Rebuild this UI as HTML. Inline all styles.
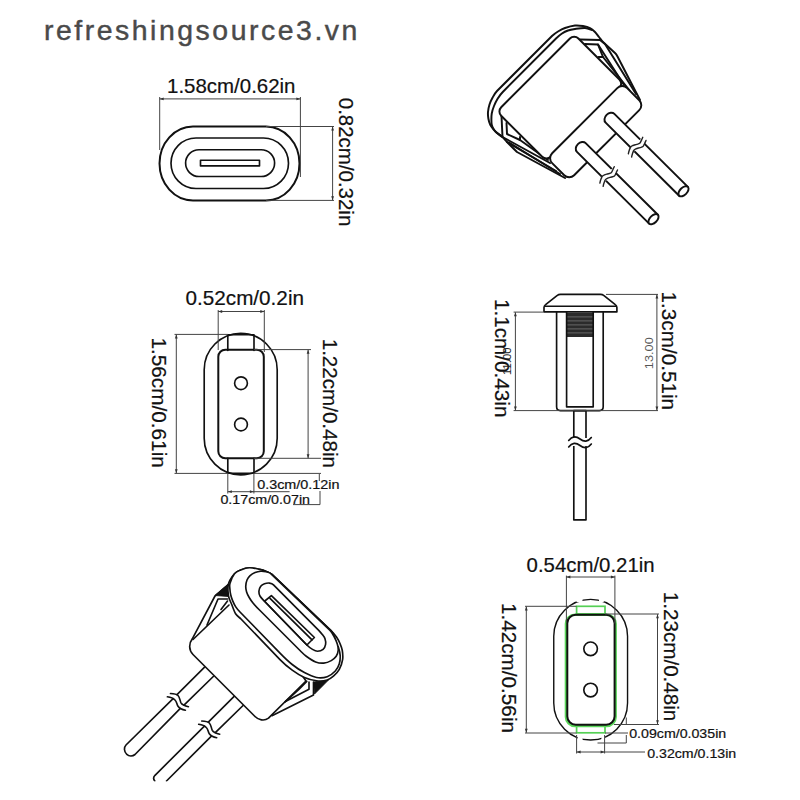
<!DOCTYPE html>
<html><head><meta charset="utf-8"><title>connector</title><style>
html,body{margin:0;padding:0;background:#fff;}
svg{display:block}
.o{fill:none;stroke:#111;stroke-width:1.65;stroke-linejoin:round;stroke-linecap:round}
.br{fill:none;stroke:#222;stroke-width:1.4;stroke-linecap:round}
.o3{fill:none;stroke:#111;stroke-width:1.95;stroke-linejoin:round;stroke-linecap:round}
.o2{fill:none;stroke:#111;stroke-width:2;stroke-linejoin:round}
.d{fill:none;stroke:#444;stroke-width:1}
.ar{fill:#333}
.kn{stroke:#777;stroke-width:0.8}
.blk{fill:#111;stroke:#111;stroke-width:0.8;stroke-linejoin:round}
.gr{fill:none;stroke:#55d055;stroke-width:1.7}
.gr2{fill:none;stroke:#5ad65a;stroke-width:2.6}
.t{font-family:"Liberation Sans",sans-serif;fill:#111;stroke:#111;stroke-width:0.2}
.sm{font-family:"Liberation Sans",sans-serif;fill:#555}
.sm2{font-family:"Liberation Sans",sans-serif;fill:#222}
.wm{font-family:"Liberation Sans",sans-serif;font-size:28.4px;fill:#4a4a4a;stroke:#4a4a4a;stroke-width:0.45}
</style></head>
<body><svg width="800" height="800" viewBox="0 0 800 800">
<rect width="800" height="800" fill="#fff"/>
<text class="wm" x="43.9" y="40.2" textLength="313.5" lengthAdjust="spacing">refreshingsource3.vn</text>
<path class="o2" d="M193,126.5 H266 A33.5,36.95 0 0 1 266,200.4 H193 A33.5,36.95 0 0 1 193,126.5 Z" />
<path class="o" d="M196,138 H263.5 A25,25.25 0 0 1 263.5,188.5 H196 A25,25.25 0 0 1 196,138 Z" />
<path class="o" d="M199,149.7 H261.2 A13.4,13.4 0 0 1 261.2,176.5 H199 A13.4,13.4 0 0 1 199,149.7 Z" />
<rect class="o" x="200.5" y="160.2" width="59" height="5.7"/>
<line class="d" x1="159.7" y1="97" x2="159.7" y2="150"/>
<line class="d" x1="300.4" y1="97" x2="300.4" y2="177"/>
<line class="d" x1="159.7" y1="98.9" x2="300.4" y2="98.9"/>
<path class="ar" d="M159.7,98.9 L163.7,97.5 L163.7,100.3 Z"/>
<path class="ar" d="M300.4,98.9 L296.4,100.3 L296.4,97.5 Z"/>
<line class="d" x1="266" y1="126.5" x2="334" y2="126.5"/>
<line class="d" x1="266" y1="200.4" x2="334" y2="200.4"/>
<line class="d" x1="332.6" y1="126.6" x2="332.6" y2="200.2"/>
<path class="ar" d="M332.6,126.6 L334,130.6 L331.2,130.6 Z"/>
<path class="ar" d="M332.6,200.2 L331.2,196.2 L334,196.2 Z"/>
<text class="t" x="167" y="93.3" style="font-size:20.6px" textLength="128.5" lengthAdjust="spacingAndGlyphs">1.58cm/0.62in</text>
<text class="t" transform="translate(338.6,97.8) rotate(90)" style="font-size:20.6px" textLength="128.5" lengthAdjust="spacingAndGlyphs">0.82cm/0.32in</text>
<rect class="o" x="204.2" y="333.3" width="73" height="141.5" rx="36.5"/>
<path class="o" d="M227.8,335.6 L227.8,350.5" />
<path class="o" d="M254,335.6 L254,350.5" />
<path class="o" d="M227.8,458.2 L227.8,472.6" />
<path class="o" d="M254,458.2 L254,472.6" />
<rect class="o2" x="218.3" y="349.7" width="45.5" height="108.6" rx="7"/>
<line class="o" x1="227.8" y1="334.7" x2="254" y2="334.7"/>
<line class="o" x1="227.8" y1="473.2" x2="254" y2="473.2"/>
<circle class="o" cx="241" cy="383.2" r="6.4"/>
<circle class="o" cx="241" cy="424.5" r="6.4"/>
<line class="d" x1="218.2" y1="310" x2="218.2" y2="350"/>
<line class="d" x1="264.3" y1="310" x2="264.3" y2="352"/>
<line class="d" x1="218.2" y1="311.5" x2="264.3" y2="311.5"/>
<path class="ar" d="M218.2,311.5 L222.2,310.1 L222.2,312.9 Z"/>
<path class="ar" d="M264.3,311.5 L260.3,312.9 L260.3,310.1 Z"/>
<text class="t" x="185.5" y="304.8" style="font-size:20.2px" textLength="118.5" lengthAdjust="spacingAndGlyphs">0.52cm/0.2in</text>
<line class="d" x1="174.5" y1="334.4" x2="227.8" y2="334.4"/>
<line class="d" x1="174.5" y1="473.4" x2="227.8" y2="473.4"/>
<line class="d" x1="254" y1="473.4" x2="321" y2="473.4"/>
<line class="d" x1="176.3" y1="334.5" x2="176.3" y2="473.2"/>
<path class="ar" d="M176.3,334.5 L177.7,338.5 L174.9,338.5 Z"/>
<path class="ar" d="M176.3,473.2 L174.9,469.2 L177.7,469.2 Z"/>
<text class="t" transform="translate(151.9,337.5) rotate(90)" style="font-size:20.6px" textLength="130.3" lengthAdjust="spacingAndGlyphs">1.56cm/0.61in</text>
<line class="d" x1="254" y1="349.6" x2="311" y2="349.6"/>
<line class="d" x1="254" y1="458.3" x2="321" y2="458.3"/>
<line class="d" x1="308.1" y1="349.8" x2="308.1" y2="458.2"/>
<path class="ar" d="M308.1,349.8 L309.5,353.8 L306.7,353.8 Z"/>
<path class="ar" d="M308.1,458.2 L306.7,454.2 L309.5,454.2 Z"/>
<text class="t" transform="translate(322.7,338.7) rotate(90)" style="font-size:20px" textLength="129.3" lengthAdjust="spacingAndGlyphs">1.22cm/0.48in</text>
<line class="d" x1="227.8" y1="473" x2="227.8" y2="493.5"/>
<line class="d" x1="253.9" y1="473" x2="253.9" y2="493.5"/>
<line class="d" x1="227.8" y1="491.7" x2="289.6" y2="491.7"/>
<path class="ar" d="M227.8,491.7 L231.8,490.3 L231.8,493.1 Z"/>
<path class="ar" d="M253.9,491.7 L249.9,493.1 L249.9,490.3 Z"/>
<text class="t" x="257.2" y="489.1" style="font-size:12.7px" textLength="82.3" lengthAdjust="spacingAndGlyphs">0.3cm/0.12in</text>
<text class="t" x="220.4" y="503.8" style="font-size:12.7px" textLength="89.6" lengthAdjust="spacingAndGlyphs">0.17cm/0.07in</text>
<path class="d" d="M293,504.6 L320,504.6 L320,491" />
<line class="d" x1="319.3" y1="474" x2="319.3" y2="481"/>
<path class="o" d="M544,311.9 L544,307.6 Q544,305.8 545.6,304.6 L557,295.6 Q558.6,294.4 560.5,294.4 L600.5,294.4 Q602.4,294.4 604,295.6 L615.3,304.6 Q616.9,305.8 616.9,307.6 L616.9,311.9 Z" />
<line class="o" x1="545" y1="306.2" x2="616" y2="306.2"/>
<path class="o" d="M556.6,312.3 V406.8 Q556.6,410.6 560.4,410.6 H599.4 Q603.2,410.6 603.2,406.8 V312.3" />
<rect x="566.6" y="312.8" width="26.6" height="24.2" fill="#2b2b2b"/>
<line class="kn" x1="566.6" y1="316.9" x2="593.2" y2="316.9"/>
<line class="kn" x1="566.6" y1="320.9" x2="593.2" y2="320.9"/>
<line class="kn" x1="566.6" y1="324.9" x2="593.2" y2="324.9"/>
<line class="kn" x1="566.6" y1="328.9" x2="593.2" y2="328.9"/>
<line class="kn" x1="566.6" y1="332.9" x2="593.2" y2="332.9"/>
<path class="o" d="M566.6,312.3 V406.9 H593.2 V312.3" />
<rect class="o" x="573.8" y="410.6" width="12.2" height="109.3"/>
<rect x="567" y="438" width="26" height="8" fill="#fff"/>
<path class="o" d="M568.7,440.5 C572,436 576,436 580,439 C584,442 588,442 591.3,437.5" />
<path class="o" d="M568.7,447 C572,442.5 576,442.5 580,445.5 C584,448.5 588,448.5 591.3,444" />
<line class="d" x1="513.6" y1="312.1" x2="543.5" y2="312.1"/>
<line class="d" x1="513.6" y1="410.6" x2="658" y2="410.6"/>
<line class="d" x1="606" y1="294.4" x2="658" y2="294.4"/>
<line class="d" x1="515.4" y1="312.3" x2="515.4" y2="410.5"/>
<path class="ar" d="M515.4,312.3 L516.8,316.3 L514,316.3 Z"/>
<path class="ar" d="M515.4,410.5 L514,406.5 L516.8,406.5 Z"/>
<line class="d" x1="656.9" y1="294.6" x2="656.9" y2="410.5"/>
<path class="ar" d="M656.9,294.6 L658.3,298.6 L655.5,298.6 Z"/>
<path class="ar" d="M656.9,410.5 L655.5,406.5 L658.3,406.5 Z"/>
<text class="t" transform="translate(494.6,298.9) rotate(90)" style="font-size:20.6px" textLength="118.5" lengthAdjust="spacingAndGlyphs">1.1cm/0.43in</text>
<text class="t" transform="translate(661.8,291.6) rotate(90)" style="font-size:20.6px" textLength="118.5" lengthAdjust="spacingAndGlyphs">1.3cm/0.51in</text>
<text class="sm" transform="translate(652.8,369.2) rotate(-90)" style="font-size:10.5px" textLength="32" lengthAdjust="spacingAndGlyphs">13.00</text>
<text class="sm2" transform="translate(511,375) rotate(-90)" style="font-size:10.5px" textLength="27.5" lengthAdjust="spacingAndGlyphs">11.00</text>
<rect class="o" style="stroke-width:1.4" x="553.75" y="599.4" width="73.8" height="140.6" rx="36.9"/>
<rect x="576.6" y="596" width="5.9" height="6" fill="#fff"/>
<rect x="598.9" y="596" width="4.9" height="6" fill="#fff"/>
<rect x="577.7" y="737" width="4.9" height="6" fill="#fff"/>
<rect x="601.4" y="737" width="3.7" height="6" fill="#fff"/>
<rect x="576.6" y="606.3" width="28.4" height="7.6" class="gr"/>
<rect x="576.6" y="724.8" width="28.4" height="8" class="gr"/>
<rect class="gr2" x="566" y="614.7" width="49.6" height="111.2" rx="9"/>
<rect class="o2" x="567.3" y="614.8" width="47.3" height="110" rx="8.5"/>
<circle class="o" cx="590.6" cy="648.8" r="6.8"/>
<circle class="o" cx="590.6" cy="690" r="6.8"/>
<line class="d" x1="566.4" y1="575.6" x2="566.4" y2="622.5"/>
<line class="d" x1="614.9" y1="575.6" x2="614.9" y2="623.5"/>
<line class="d" x1="566.4" y1="577" x2="614.9" y2="577"/>
<path class="ar" d="M566.4,577 L570.4,575.6 L570.4,578.4 Z"/>
<path class="ar" d="M614.9,577 L610.9,578.4 L610.9,575.6 Z"/>
<text class="t" x="526.6" y="571.8" style="font-size:20.6px" textLength="128" lengthAdjust="spacingAndGlyphs">0.54cm/0.21in</text>
<line class="d" x1="525" y1="606.3" x2="576.6" y2="606.3"/>
<line class="d" x1="525" y1="733" x2="576.6" y2="733"/>
<line class="d" x1="526.3" y1="606.5" x2="526.3" y2="732.8"/>
<path class="ar" d="M526.3,606.5 L527.7,610.5 L524.9,610.5 Z"/>
<path class="ar" d="M526.3,732.8 L524.9,728.8 L527.7,728.8 Z"/>
<text class="t" transform="translate(502.3,603) rotate(90)" style="font-size:20.6px" textLength="130" lengthAdjust="spacingAndGlyphs">1.42cm/0.56in</text>
<line class="d" x1="605" y1="614" x2="659" y2="614"/>
<line class="d" x1="614" y1="724.5" x2="659" y2="724.5"/>
<line class="d" x1="657.5" y1="614.2" x2="657.5" y2="724.2"/>
<path class="ar" d="M657.5,614.2 L658.9,618.2 L656.1,618.2 Z"/>
<path class="ar" d="M657.5,724.2 L656.1,720.2 L658.9,720.2 Z"/>
<text class="t" transform="translate(663.9,591.8) rotate(90)" style="font-size:20.6px" textLength="129.5" lengthAdjust="spacingAndGlyphs">1.23cm/0.48in</text>
<line class="d" x1="576.6" y1="735" x2="576.6" y2="753.5"/>
<line class="d" x1="604.6" y1="735" x2="604.6" y2="753.5"/>
<line class="d" x1="576.6" y1="752" x2="645" y2="752"/>
<path class="ar" d="M576.6,752 L580.6,750.6 L580.6,753.4 Z"/>
<path class="ar" d="M604.6,752 L600.6,753.4 L600.6,750.6 Z"/>
<line class="d" x1="605" y1="733" x2="628" y2="733"/>
<path class="d" d="M597.5,743 L626.3,743 L626.3,735" />
<line class="d" x1="626.3" y1="717.5" x2="626.3" y2="724"/>
<text class="t" x="629.2" y="737.6" style="font-size:12.7px" textLength="97" lengthAdjust="spacingAndGlyphs">0.09cm/0.035in</text>
<text class="t" x="647.2" y="757.8" style="font-size:12.7px" textLength="89" lengthAdjust="spacingAndGlyphs">0.32cm/0.13in</text>
<path class="o3" d="M565,178 L517,152 L508,143 C506,141 504.08,138.42 502.25,136.75 C500.42,135.08 498.38,134.12 497,133 C495.62,131.88 495.12,131.38 494,130 C492.88,128.62 491.18,126.62 490.25,124.75 C489.32,122.88 488.77,120.88 488.4,118.75 C488.02,116.62 487.82,114.38 488,112 C488.18,109.62 488.75,106.88 489.5,104.5 C490.25,102.12 491.25,100 492.5,97.75 C493.75,95.5 495.09,92.91 497,91 L552,36 C553.77,34.23 555.83,32.83 558,31.5 C560.17,30.17 562.17,29 565,28 C567.83,27 572,25.83 575,25.5 C578,25.17 580.5,25.58 583,26 C585.5,26.42 588,27 590,28 C592,29 593.5,30.5 595,32 C596.5,33.5 597.67,35.33 599,37 C600.33,38.67 601.43,40.56 603,42 L615,53 C616.06,53.97 616.84,55.23 617.5,56.5 L640,100" />
<path class="o3" d="M501.5,136.5 C500.58,135.75 497.38,133.33 496,132 C494.62,130.67 493.96,129.71 493.25,128.5 C492.54,127.29 492.06,126.12 491.75,124.75 C491.44,123.38 491.4,122.12 491.4,120.25 C491.4,118.38 491.32,115.88 491.75,113.5 C492.18,111.12 493,108.5 494,106 C495,103.5 496.25,100.88 497.75,98.5 C499.25,96.12 500.99,93.77 503,91.75 L556,38.5 C557.84,36.65 560,34.83 562,33.5 C564,32.17 565.83,31.25 568,30.5 C570.17,29.75 572.17,29.42 575,29 C577.83,28.58 582.17,27.83 585,28 C587.83,28.17 590.83,29.67 592,30" />
<path class="o3" d="M580,39.5 L600,40" />
<path class="o3" d="M600,40 L605,44 L636,94" />
<path class="o3" d="M585,44 L598,44.5 L603,57 L598.5,57" />
<path class="o3" d="M598,44.5 L624,85" />
<path class="o3" d="M603,57 L630,91" />
<path class="o3" d="M501.5,116 L502.5,137" />
<path class="o3" d="M506.5,123 L507,134 L520,140 L520,137" />
<path class="o3" d="M520,140 L548,160" />
<path class="o3" d="M502.5,137 L550,163" />
<path class="o3" d="M507,142 L556,171" />
<path class="o3" d="M509,142.5 L560,174" />
<rect class="o3" x="-54.6" y="-35" width="109.2" height="70" rx="6" transform="translate(560.3,97.6) rotate(-45)" style="fill:#fff"/>
<rect class="o3" x="-53.05" y="-15.55" width="106.1" height="31.1" rx="7" transform="translate(595.7,131.7) rotate(-45)" style="fill:#fff"/>
<g transform="translate(606.6,114.9) rotate(44.81)"><path class="o3" style="fill:#fff" d="M108.4,-6.2 L4.8,-6.2 A4.8,6.2 0 0 0 4.8,6.2 L108.4,6.2 Z"/><ellipse class="o3" style="fill:#fff" cx="108.4" cy="0" rx="3.6" ry="6.2"/><path d="M41.4,-7.4 L47.2,-7.4 L45.2,7.4 L39.6,7.4 Z" fill="#fff"/><path class="br" d="M41.4,-9.6 C41.57,-9.15 42.05,-7.97 42.4,-6.9 C42.75,-5.83 43.55,-4.3 43.5,-3.2 C43.45,-2.1 42.65,-1.37 42.1,-0.3 C41.55,0.77 40.6,2.18 40.2,3.2 C39.8,4.22 39.53,4.75 39.7,5.8 C39.87,6.85 40.68,8.43 41.2,9.5 C41.72,10.57 42.53,11.75 42.8,12.2"/><path class="br" d="M46,-9.6 C46.17,-9.15 46.65,-7.97 47,-6.9 C47.35,-5.83 48.15,-4.3 48.1,-3.2 C48.05,-2.1 47.25,-1.37 46.7,-0.3 C46.15,0.77 45.2,2.18 44.8,3.2 C44.4,4.22 44.13,4.75 44.3,5.8 C44.47,6.85 45.28,8.43 45.8,9.5 C46.32,10.57 47.13,11.75 47.4,12.2"/></g>
<g transform="translate(577.9,144.1) rotate(44.81)"><path class="o3" style="fill:#fff" d="M106.56,-6.2 L4.8,-6.2 A4.8,6.2 0 0 0 4.8,6.2 L106.56,6.2 Z"/><ellipse class="o3" style="fill:#fff" cx="106.56" cy="0" rx="3.6" ry="6.2"/><path d="M41.7,-7.4 L47.5,-7.4 L45.5,7.4 L39.9,7.4 Z" fill="#fff"/><path class="br" d="M41.7,-9.6 C41.87,-9.15 42.35,-7.97 42.7,-6.9 C43.05,-5.83 43.85,-4.3 43.8,-3.2 C43.75,-2.1 42.95,-1.37 42.4,-0.3 C41.85,0.77 40.9,2.18 40.5,3.2 C40.1,4.22 39.83,4.75 40,5.8 C40.17,6.85 40.98,8.43 41.5,9.5 C42.02,10.57 42.83,11.75 43.1,12.2"/><path class="br" d="M46.3,-9.6 C46.47,-9.15 46.95,-7.97 47.3,-6.9 C47.65,-5.83 48.45,-4.3 48.4,-3.2 C48.35,-2.1 47.55,-1.37 47,-0.3 C46.45,0.77 45.5,2.18 45.1,3.2 C44.7,4.22 44.43,4.75 44.6,5.8 C44.77,6.85 45.58,8.43 46.1,9.5 C46.62,10.57 47.43,11.75 47.7,12.2"/></g>
<g transform="translate(0,0)">
<path class="o" d="M204.6,667.1 L177,694.6" />
<path class="o" d="M213.3,676.5 L184,705.1" />
<path class="o" d="M170.5,693.5 C174,693.6 176.5,694 178,695.5 C180,697.5 179.8,700.5 181,702.8 C182,704.5 185,706 188.4,706.7" />
<path class="o" d="M167.4,696.8 C170.5,697.2 173.5,698.4 175,700 C177,702 176.6,704.2 178,706.3 C179.5,708.5 182.5,709.8 185.4,710.2" />
</g>
<g transform="translate(31.3,27.5)">
<path class="o" d="M204.6,667.1 L177,694.6" />
<path class="o" d="M213.3,676.5 L184,705.1" />
<path class="o" d="M170.5,693.5 C174,693.6 176.5,694 178,695.5 C180,697.5 179.8,700.5 181,702.8 C182,704.5 185,706 188.4,706.7" />
<path class="o" d="M167.4,696.8 C170.5,697.2 173.5,698.4 175,700 C177,702 176.6,704.2 178,706.3 C179.5,708.5 182.5,709.8 185.4,710.2" />
</g>
<path class="o" d="M173.1,698.6 L126,745 C123.8,747.3 123.8,751.8 126.8,754.3 C129,756.2 132.6,756.4 135,754.5 L180.1,708.6" />
<path class="o" d="M204.4,726.1 L155,775.3 C153.4,777 153.3,779.3 154.8,781" />
<path class="o" d="M211.4,736.1 L166.5,781" />
<rect x="100" y="781.5" width="120" height="18.5" fill="#fff"/>
<path class="o" d="M236,578 L215,596 L192.3,638.8 C188.8,643.5 188.6,650 193,654.5 L255,716.5 C258.5,720 264,721.5 268.5,718.2 L306,681 Z" style="fill:#fff"/>
<path class="blk" d="M215,595.5 L229,583.5 L228,596.5 Z" />
<path class="o" d="M229,605 L193,639.5" />
<path class="o" d="M227.5,599 L218,599 L207,625" />
<path class="o" d="M227.5,601 L221,609.5" />
<path class="blk" d="M313.5,682 L329,679.5 L314.6,694 Z" />
<path class="o" d="M272,715.7 L313.5,694.9 L313.5,682" />
<path class="o" d="M285.4,701.6 L309,689.3 L309,682" />
<path class="o" d="M285.4,701.6 L298.9,689.3 L306.8,681.4" />
<path class="o" d="M249.5,567.8 C252.62,567.7 256.79,568.82 259.5,569.4 C262.21,569.98 263.67,570.42 265.75,571.25 C267.83,572.08 270.31,572.79 272,574.4 L331,630.5 C333.06,632.46 335,634.83 336.5,637 C338,639.17 339.03,641.25 340,643.5 C340.97,645.75 341.87,647.82 342.3,650.5 C342.73,653.18 343.1,656.45 342.6,659.6 C342.1,662.75 340.78,666.68 339.3,669.4 C337.82,672.12 335.72,674.13 333.7,675.9 C331.68,677.67 330.05,679.18 327.2,680 C324.35,680.82 320.4,681.22 316.6,680.8 C312.8,680.38 308.47,679.27 304.4,677.5 C300.33,675.73 296.27,673.18 292.2,670.2 C288.13,667.22 283.73,663.49 280,659.6 L241,619 C239.26,617.19 237.2,616.29 235.6,613.75 C234,611.21 232.52,606.46 231.4,603.75 C230.28,601.04 229.47,599.58 228.9,597.5 C228.33,595.42 228.11,593.33 228,591.25 C227.89,589.17 227.9,586.88 228.25,585 C228.6,583.12 229.06,581.88 230.1,580 C231.14,578.12 232.72,575.42 234.5,573.75 C236.28,572.08 238.25,570.99 240.75,570 C243.25,569.01 246.38,567.9 249.5,567.8 Z" style="fill:#fff"/>
<path class="o" d="M249.5,567.8 C252.62,567.7 256.79,568.82 259.5,569.4 C262.21,569.98 263.67,570.42 265.75,571.25 C267.83,572.08 270.31,572.79 272,574.4 L331,630.5 C334.78,634.1 335.65,642.18 336.9,645 C338.15,647.82 337.95,645.63 338.5,647.4 C339.05,649.17 340.07,652.88 340.2,655.6 C340.33,658.32 340.12,661.13 339.3,663.7 C338.48,666.27 337.32,668.83 335.3,671 C333.28,673.17 330.32,675.62 327.2,676.7 C324.08,677.78 320.4,678.18 316.6,677.5 C312.8,676.82 308.47,674.77 304.4,672.6 C300.33,670.43 296.27,667.75 292.2,664.5 C288.13,661.25 283.88,657.09 280,653.1 L240,612 C238.46,610.41 236.98,608.8 235.75,606.9 C234.52,605 233.43,602.58 232.6,600.6 C231.77,598.62 231.22,597.1 230.75,595 C230.28,592.9 229.91,590 229.8,588 C229.69,586 229.32,585.38 230.1,583 C230.88,580.62 232.72,575.92 234.5,573.75 C236.28,571.58 238.25,570.99 240.75,570 C243.25,569.01 246.38,567.9 249.5,567.8 Z" style="fill:#fff"/>
<path class="o" d="M245.75,586.25 C245.82,584.25 246.28,581.77 247,580 C247.72,578.23 248.75,576.85 250.1,575.6 C251.45,574.35 253.32,573.23 255.1,572.5 C256.88,571.77 258.93,571.37 260.75,571.25 C262.57,571.13 264.38,571.42 266,571.8 C267.62,572.17 269.34,572.39 270.5,573.5 L330,630.3 C331.87,632.08 332.98,634.52 334.2,636.8 C335.42,639.08 336.63,641.75 337.3,644 C337.97,646.25 338.38,648.25 338.2,650.3 C338.02,652.35 337.36,654.58 336.2,656.3 C335.04,658.02 333.32,659.47 331.25,660.6 C329.18,661.73 326.36,662.88 323.75,663.1 C321.14,663.32 318.52,663.04 315.6,661.9 C312.68,660.76 308.77,658.07 306.25,656.25 C303.73,654.43 302.34,652.84 300.5,651 L259.5,610 C257.25,607.75 254.72,605.08 253,603 C251.28,600.92 250.27,599.33 249.2,597.5 C248.13,595.67 247.17,593.88 246.6,592 C246.03,590.12 245.68,588.25 245.75,586.25 Z" style="fill:#fff"/>
<path class="o" d="M258.9,591.25 C259.01,589.58 259.82,587.5 260.75,586.25 C261.68,585 263.04,584.27 264.5,583.75 C265.96,583.23 268,582.93 269.5,583.1 C271,583.27 272.48,583.77 273.5,584.8 L318.75,630.3 C320.04,631.6 321.26,633.09 322.3,634.5 C323.34,635.91 324.45,637.1 325,638.75 C325.55,640.4 325.92,642.62 325.6,644.4 C325.28,646.17 324.45,648.26 323.1,649.4 C321.75,650.54 319.27,651.25 317.5,651.25 C315.73,651.25 314.27,650.44 312.5,649.4 C310.73,648.36 308.55,646.7 306.9,645 L264.5,601.25 C262.95,599.66 261.03,597.92 260.1,596.25 C259.17,594.58 258.79,592.92 258.9,591.25 Z" style="fill:#fff"/>
<path class="o" d="M264.5,601.25 L271.4,595.6 L314.4,637.5 L306.9,645 Z" />
<line class="o" x1="270" y1="598.4" x2="312" y2="639.8"/>
</svg></body></html>
